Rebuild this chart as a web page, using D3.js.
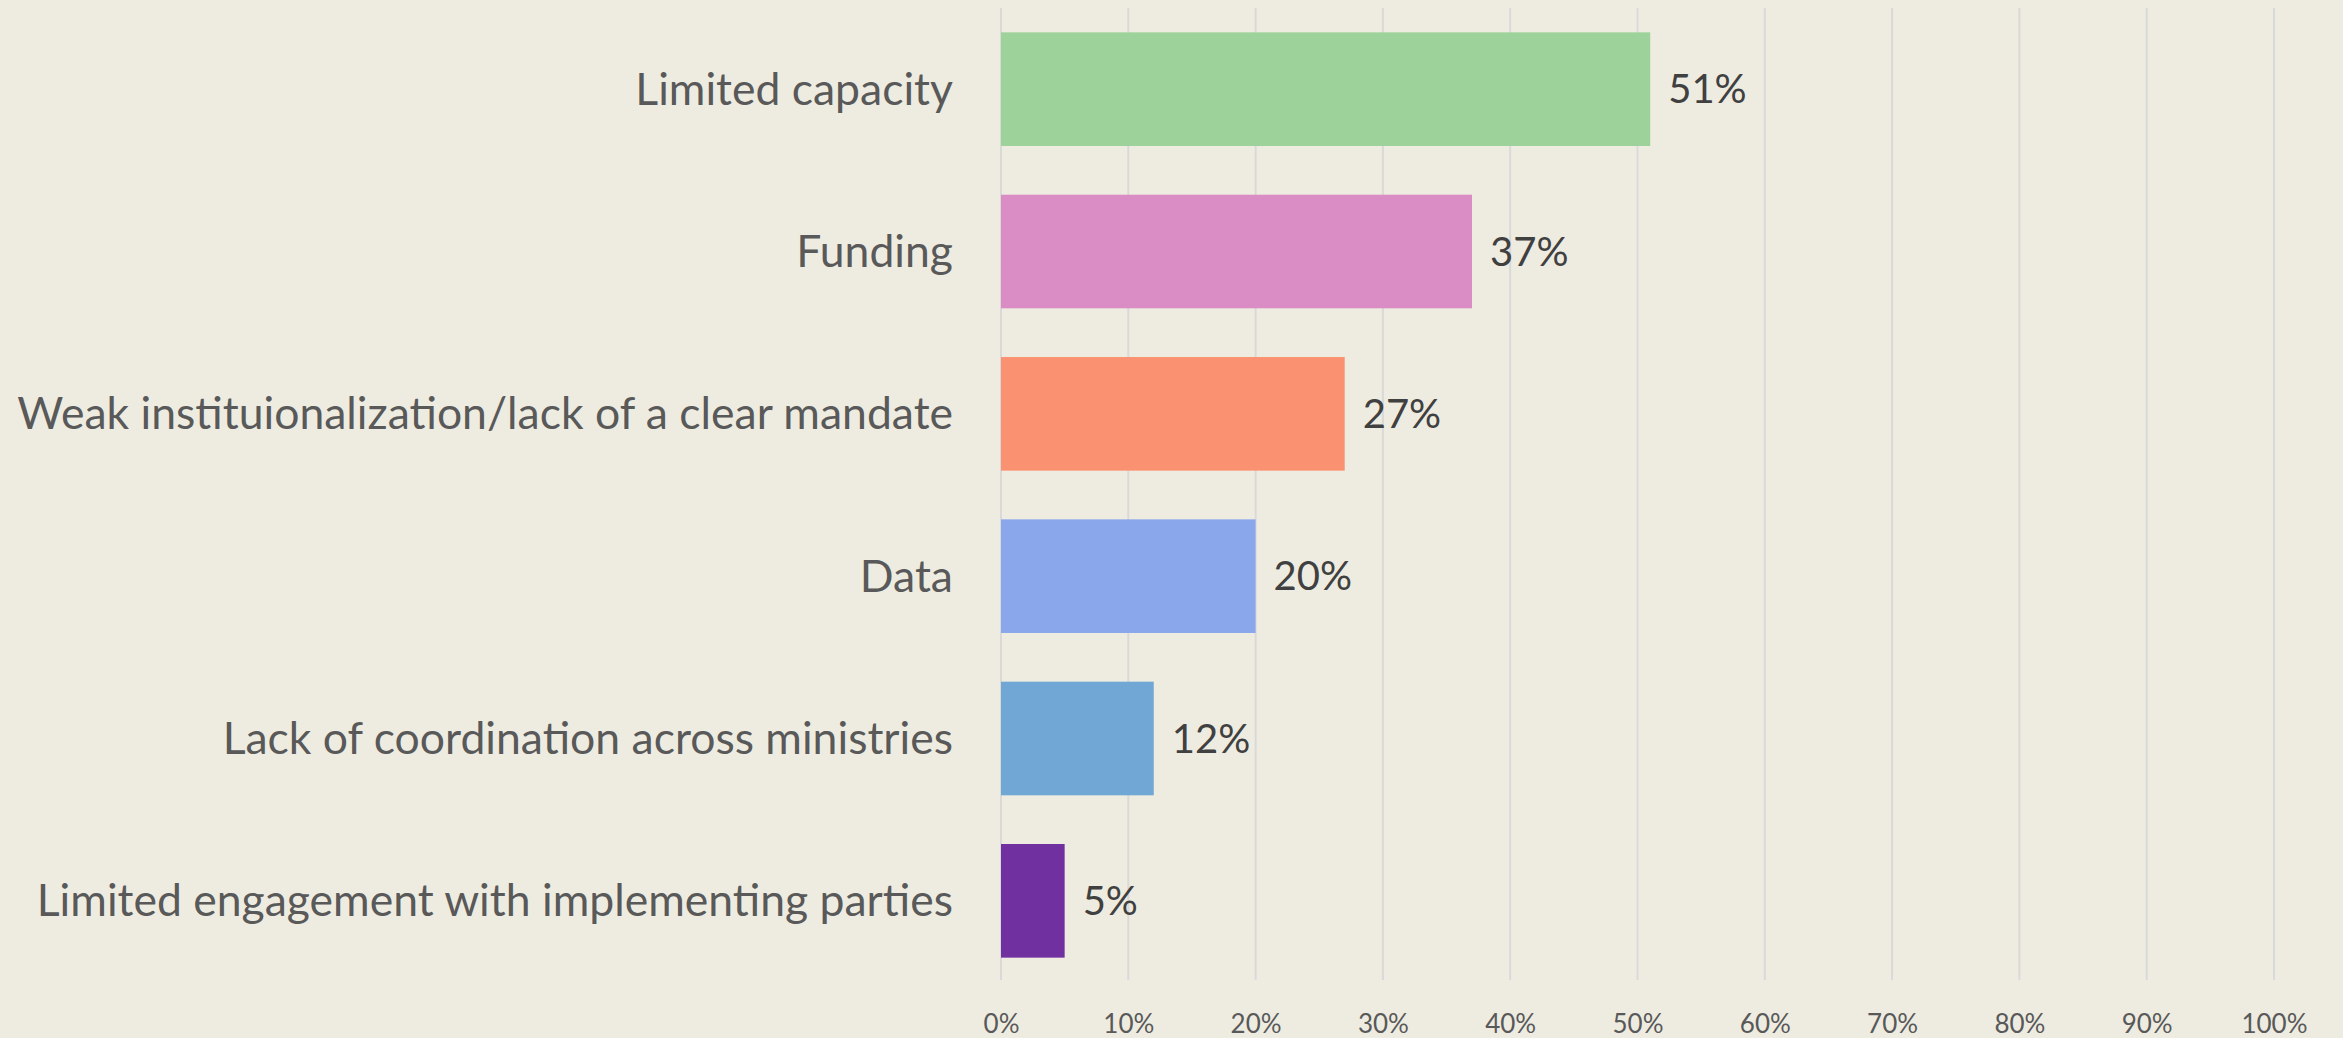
<!DOCTYPE html>
<html lang="en">
<head>
<meta charset="UTF-8">
<title>Challenges</title>
<script src="https://cdnjs.cloudflare.com/ajax/libs/d3/7.8.5/d3.min.js"></script>
<style>
  body { margin: 0; background: #EEECE1; }
  svg { display: block; }
</style>
</head>
<body>
<svg width="2343" height="1038" id="canvas"></svg>
<script>
    // data
    const categories = [
        "Limited capacity",
        "Funding",
        "Weak instituionalization/lack of a clear mandate",
        "Data",
        "Lack of coordination across ministries",
        "Limited engagement with implementing parties"
    ];
    const values = [0.51, 0.37, 0.27, 0.20, 0.12, 0.05];
    const barColors = ["#9DD29A", "#DA8DC4", "#FA9272", "#8AA7EC", "#71A7D5", "#7030A0"];
    const tickValues = [0, 0.1, 0.2, 0.3, 0.4, 0.5, 0.6, 0.7, 0.8, 0.9, 1.0];

    const svg = d3.select("#canvas");
    const font = "Lato, 'Open Sans', sans-serif";

    const x = d3.scaleLinear()
        .domain([0, 1])
        .range([1001, 2274]);

    const y = d3.scaleBand()
        .domain(categories)
        .range([8, 982])
        .paddingInner(0.3)
        .paddingOuter(0.15);

    // vertical gridlines
    svg.append("g")
        .selectAll("line")
        .data(tickValues)
        .join("line")
        .attr("x1", d => x(d))
        .attr("x2", d => x(d))
        .attr("y1", 8)
        .attr("y2", 980)
        .attr("stroke", "#D9D9D9")
        .attr("stroke-width", 2);

    // bars
    svg.append("g")
        .selectAll("rect")
        .data(values)
        .join("rect")
        .attr("x", x(0))
        .attr("y", (d, i) => y(categories[i]))
        .attr("width", d => x(d) - x(0))
        .attr("height", y.bandwidth())
        .attr("fill", (d, i) => barColors[i]);

    // value labels
    svg.append("g")
        .selectAll("text")
        .data(values)
        .join("text")
        .attr("x", d => x(d) + 18)
        .attr("y", (d, i) => y(categories[i]) + y.bandwidth() / 2)
        .attr("dy", "0.35em")
        .attr("font-family", font)
        .attr("font-size", 40)
        .attr("fill", "#404040")
        .text(d => d3.format(".0%")(d));

    // category labels
    svg.append("g")
        .selectAll("text")
        .data(categories)
        .join("text")
        .attr("x", 953)
        .attr("y", d => y(d) + y.bandwidth() / 2)
        .attr("dy", "0.35em")
        .attr("text-anchor", "end")
        .attr("font-family", font)
        .attr("font-size", 44.5)
        .attr("fill", "#595959")
        .text(d => d);

    // x axis
    const axis = d3.axisBottom(x)
        .tickValues(tickValues)
        .tickFormat(d3.format(".0%"))
        .tickSize(0)
        .tickPadding(0);
    const gx = svg.append("g")
        .attr("transform", "translate(0,1015)")
        .call(axis);
    gx.select(".domain").remove();
    gx.selectAll("text")
        .attr("font-family", font)
        .attr("font-size", 26)
        .attr("fill", "#595959");
</script>
</body>
</html>
